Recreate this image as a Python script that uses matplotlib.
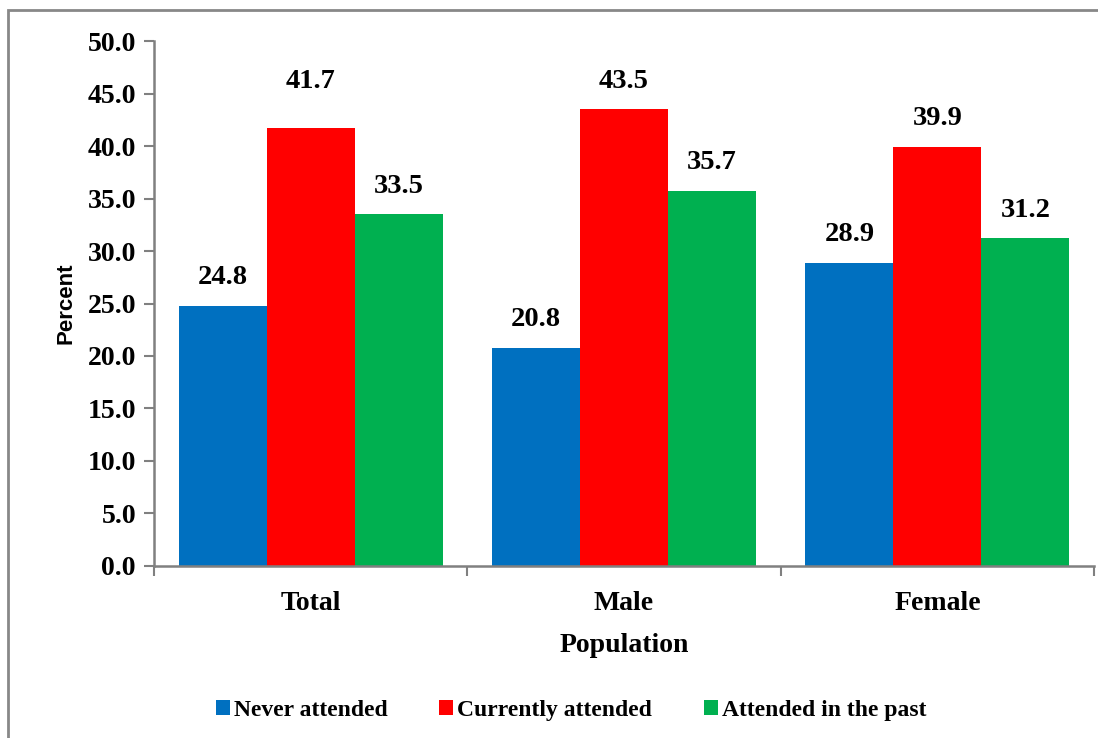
import numpy as np
import matplotlib.pyplot as plt
from matplotlib.patches import Rectangle

categories = ['Total', 'Male', 'Female']
never_attended = [24.8, 20.8, 28.9]
currently_attended = [41.7, 43.5, 39.9]
attended_past = [33.5, 35.7, 31.2]
series_names = ['Never attended', 'Currently attended', 'Attended in the past']
colors = ['#0070C0', '#FF0000', '#00B050']
yticks = [0, 5, 10, 15, 20, 25, 30, 35, 40, 45, 50]

serif = 'Liberation Serif'
grey = '#808080'

fig = plt.figure(figsize=(10.98, 7.38), dpi=100)
ax = fig.add_axes([0.1403, 0.2331, 0.8561, 0.7113])

x = np.arange(len(categories))
w = 0.281
series = [never_attended, currently_attended, attended_past]
# the Total/Currently label sits higher in the original (manually moved)
extra = {(1, 0): 1.8}
for i, (vals, name, c) in enumerate(zip(series, series_names, colors)):
    bars = ax.bar(x + (i - 1) * w, vals, w, color=c, label=name)
    for j, (b, v) in enumerate(zip(bars, vals)):
        ax.text(b.get_x() + b.get_width() / 2, v + 1.5 + extra.get((i, j), 0),
                '%.1f' % v, ha='center', va='bottom', fontsize=20.5,
                fontweight='bold', family=serif)

ax.set_xlim(-0.5, 2.5)
ax.set_ylim(0, 50)
ax.set_yticks(yticks)
ax.set_yticklabels(['%.1f' % t for t in yticks], fontsize=20,
                   fontweight='bold', family=serif)

# ticks at category boundaries, labels at centres
ax.set_xticks([-0.5, 0.5, 1.5, 2.5])
ax.set_xticklabels([])
ax.set_xticks(x, minor=True)
ax.set_xticklabels(categories, minor=True, fontsize=20, fontweight='bold',
                   family=serif)
ax.tick_params(axis='x', which='minor', length=0, pad=18)
ax.tick_params(axis='x', which='major', length=7, width=1.5, color=grey)
ax.tick_params(axis='y', length=7, width=1.5, color=grey, pad=6)

for s in ['top', 'right']:
    ax.spines[s].set_visible(False)
for s in ['left', 'bottom']:
    ax.spines[s].set_color(grey)
    ax.spines[s].set_linewidth(1.8)

ax.set_ylabel('Percent', fontsize=16, fontweight='bold',
              family='Liberation Sans', labelpad=8)
ax.set_xlabel('Population', fontsize=20, fontweight='bold', family=serif,
              labelpad=12)

fig.legend(loc='center', bbox_to_anchor=(0.52, 0.037), ncol=3, frameon=False,
           prop={'family': serif, 'weight': 'bold', 'size': 17},
           handlelength=0.6, handleheight=0.6, handletextpad=0.15,
           columnspacing=2.2)

# outer chart border
fig.patches.append(Rectangle((8 / 1098, -0.1), 1.2, 1 - 10 / 738 + 0.1,
                             transform=fig.transFigure, fill=False,
                             edgecolor='#888888', linewidth=2))

fig.savefig('out.png', dpi=100)
